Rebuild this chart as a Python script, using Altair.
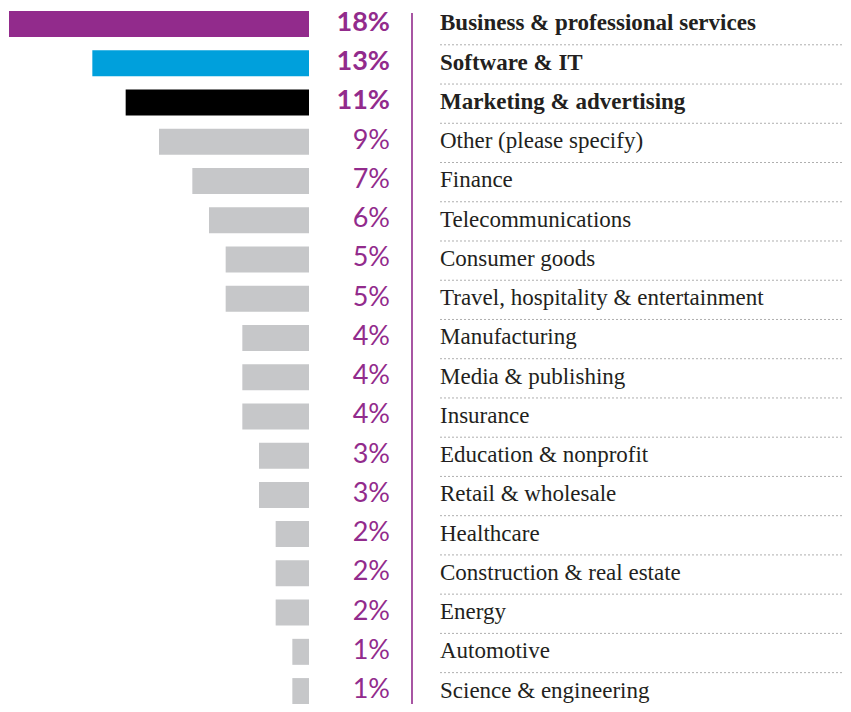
import altair as alt
import pandas as pd

categories = [
    "Business & professional services",
    "Software & IT",
    "Marketing & advertising",
    "Other (please specify)",
    "Finance",
    "Telecommunications",
    "Consumer goods",
    "Travel, hospitality & entertainment",
    "Manufacturing",
    "Media & publishing",
    "Insurance",
    "Education & nonprofit",
    "Retail & wholesale",
    "Healthcare",
    "Construction & real estate",
    "Energy",
    "Automotive",
    "Science & engineering",
]
values = [18, 13, 11, 9, 7, 6, 5, 5, 4, 4, 4, 3, 3, 2, 2, 2, 1, 1]

PURPLE = "#922B8C"
BLUE = "#00A0DC"
GRAY = "#C6C7C9"
bar_colors = [PURPLE, BLUE, "#000000"] + [GRAY] * (len(categories) - 3)

df = pd.DataFrame({"category": categories, "value": values, "idx": list(range(len(categories)))})

W, H = 835, 696
xscale = alt.Scale(domain=[18.06, -32.04], nice=False, zero=False, padding=0)
yscale = alt.Scale(domain=[17.3293, -0.4077], nice=False, zero=False, padding=0)

base = alt.Chart(df)

bars = base.mark_bar(orient="horizontal", size=26).encode(
    x=alt.X("value:Q", scale=xscale, axis=None),
    x2=alt.datum(0),
    y=alt.Y("idx:Q", scale=yscale, axis=None),
    color=alt.Color("category:N", scale=alt.Scale(domain=categories, range=bar_colors), legend=None),
)

pct_common = dict(align="right", baseline="alphabetic", font="Lato", fontSize=27, color=PURPLE, dy=7)
pct_bold = base.transform_filter("datum.idx < 3").transform_calculate(
    lbl="datum.value + '%'"
).mark_text(fontWeight="bold", **pct_common).encode(
    x=alt.value(382), y=alt.Y("idx:Q", scale=yscale, axis=None), text="lbl:N"
)
pct_norm = base.transform_filter("datum.idx >= 3").transform_calculate(
    lbl="datum.value + '%'"
).mark_text(fontWeight="normal", **pct_common).encode(
    x=alt.value(382), y=alt.Y("idx:Q", scale=yscale, axis=None), text="lbl:N"
)

cat_common = dict(align="left", baseline="alphabetic", font="Liberation Serif", fontSize=23, color="#231F20", dy=6.5)
cat_bold = base.transform_filter("datum.idx < 3").mark_text(fontWeight="bold", **cat_common).encode(
    x=alt.value(432), y=alt.Y("idx:Q", scale=yscale, axis=None), text="category:N"
)
cat_norm = base.transform_filter("datum.idx >= 3").mark_text(fontWeight="normal", **cat_common).encode(
    x=alt.value(432), y=alt.Y("idx:Q", scale=yscale, axis=None), text="category:N"
)

dots = base.transform_filter("datum.idx < 17").transform_calculate(
    sep="datum.idx + 0.53"
).mark_rule(color="#AFAFAF", strokeWidth=1, strokeDash=[2, 2]).encode(
    x=alt.value(432), x2=alt.value(W), y=alt.Y("sep:Q", scale=yscale, axis=None)
)

vline = alt.Chart(pd.DataFrame({"a": [0]})).mark_rule(color=PURPLE, strokeWidth=1.6).encode(
    x=alt.value(404), y=alt.value(5), y2=alt.value(H)
)

chart = alt.layer(bars, pct_bold, pct_norm, cat_bold, cat_norm, dots, vline).properties(
    width=W, height=H, autosize=alt.AutoSizeParams(type="none"), padding=0
).configure_view(stroke=None)

chart.save("out.html", embed_options={"renderer": "svg", "actions": False})
